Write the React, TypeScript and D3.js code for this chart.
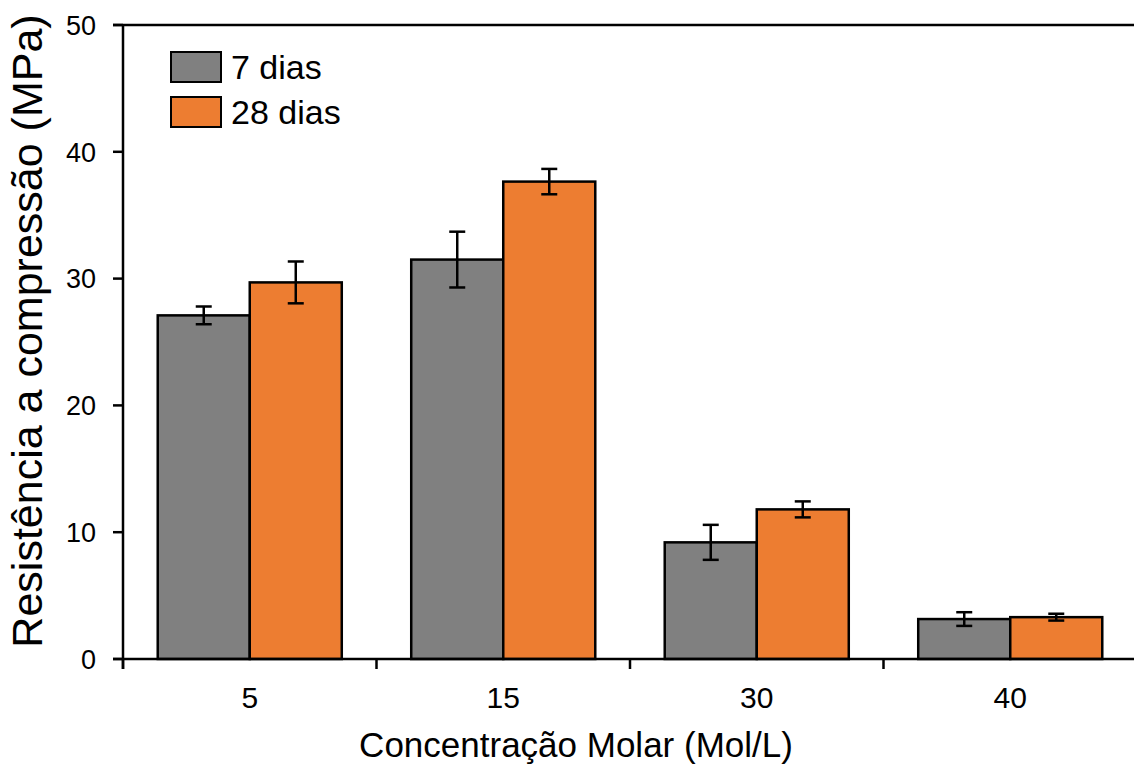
import React from "react";
import * as d3 from "d3";

const categories = ["5", "15", "30", "40"];
const seriesNames = ["7 dias", "28 dias"];
const values7 = [27.1, 31.5, 9.2, 3.15];
const errors7 = [0.7, 2.2, 1.38, 0.54];
const values28 = [29.7, 37.65, 11.8, 3.3];
const errors28 = [1.65, 1.0, 0.63, 0.27];
const yTicks = [0, 10, 20, 30, 40, 50];
const colors = ["#808080", "#ED7D31"];

const W = 1134;
const H = 769;
const FONT = "'Liberation Sans', Arial, Helvetica, sans-serif";

export default function App() {
  const y = d3.scaleLinear().domain([0, 50]).range([659, 25]);
  const x = d3
    .scaleBand<string>()
    .domain(categories)
    .range([123, 1137])
    .paddingInner(0.274)
    .paddingOuter(0.137);
  const xs = d3.scaleBand<string>().domain(seriesNames).range([0, x.bandwidth()]);
  const series = [
    { name: seriesNames[0], vals: values7, errs: errors7, color: colors[0] },
    { name: seriesNames[1], vals: values28, errs: errors28, color: colors[1] },
  ];
  const step = x.step();
  const boundaries = categories.map((c) => (x(c) as number) - (step - x.bandwidth()) / 2);
  const x0 = 123;

  return (
    <svg
      width={W}
      height={H}
      style={{ position: "absolute", left: 0, top: 0, background: "#fff" }}
      fontFamily={FONT}
    >
      {/* top line at 50 */}
      <line x1={113} x2={W} y1={y(50)} y2={y(50)} stroke="#000" strokeWidth={2.5} />
      {/* bars */}
      {series.map((s) =>
        categories.map((c, i) => {
          const bx = (x(c) as number) + (xs(s.name) as number);
          const bw = xs.bandwidth();
          const cx = bx + bw / 2;
          return (
            <g key={s.name + c}>
              <rect
                x={bx}
                y={y(s.vals[i])}
                width={bw}
                height={y(0) - y(s.vals[i])}
                fill={s.color}
                stroke="#000"
                strokeWidth={2.5}
              />
              <line x1={cx} x2={cx} y1={y(s.vals[i] + s.errs[i])} y2={y(s.vals[i] - s.errs[i])} stroke="#000" strokeWidth={2.5} />
              <line x1={cx - 8} x2={cx + 8} y1={y(s.vals[i] + s.errs[i])} y2={y(s.vals[i] + s.errs[i])} stroke="#000" strokeWidth={2.5} />
              <line x1={cx - 8} x2={cx + 8} y1={y(s.vals[i] - s.errs[i])} y2={y(s.vals[i] - s.errs[i])} stroke="#000" strokeWidth={2.5} />
            </g>
          );
        })
      )}
      {/* y axis */}
      <line x1={x0} x2={x0} y1={y(50)} y2={y(0) + 10} stroke="#000" strokeWidth={2.5} />
      {yTicks.map((t) => (
        <g key={t}>
          <line x1={113} x2={x0} y1={y(t)} y2={y(t)} stroke="#000" strokeWidth={2.5} />
          <text x={96} y={y(t)} dy="0.36em" textAnchor="end" fontSize={27} fill="#000">
            {t}
          </text>
        </g>
      ))}
      {/* x axis */}
      <line x1={113} x2={W} y1={y(0)} y2={y(0)} stroke="#000" strokeWidth={2.5} />
      {boundaries.map((b, i) => (
        <line key={i} x1={b} x2={b} y1={y(0)} y2={y(0) + 10} stroke="#000" strokeWidth={2.5} />
      ))}
      {categories.map((c) => (
        <text key={c} x={(x(c) as number) + x.bandwidth() / 2} y={708} textAnchor="middle" fontSize={30} fill="#000">
          {c}
        </text>
      ))}
      <text x={576} y={757} textAnchor="middle" fontSize={35} fill="#000">
        Concentração Molar (Mol/L)
      </text>
      <text transform="translate(42,331) rotate(-90)" textAnchor="middle" fontSize={43} fill="#000">
        Resistência a compressão (MPa)
      </text>
      {/* legend */}
      {series.map((s, i) => (
        <g key={s.name} transform={`translate(171,${52 + i * 45})`}>
          <rect x={0} y={0} width={50} height={30} fill={s.color} stroke="#000" strokeWidth={2} />
          <text x={60} y={27} fontSize={34} fill="#000">
            {s.name}
          </text>
        </g>
      ))}
    </svg>
  );
}
